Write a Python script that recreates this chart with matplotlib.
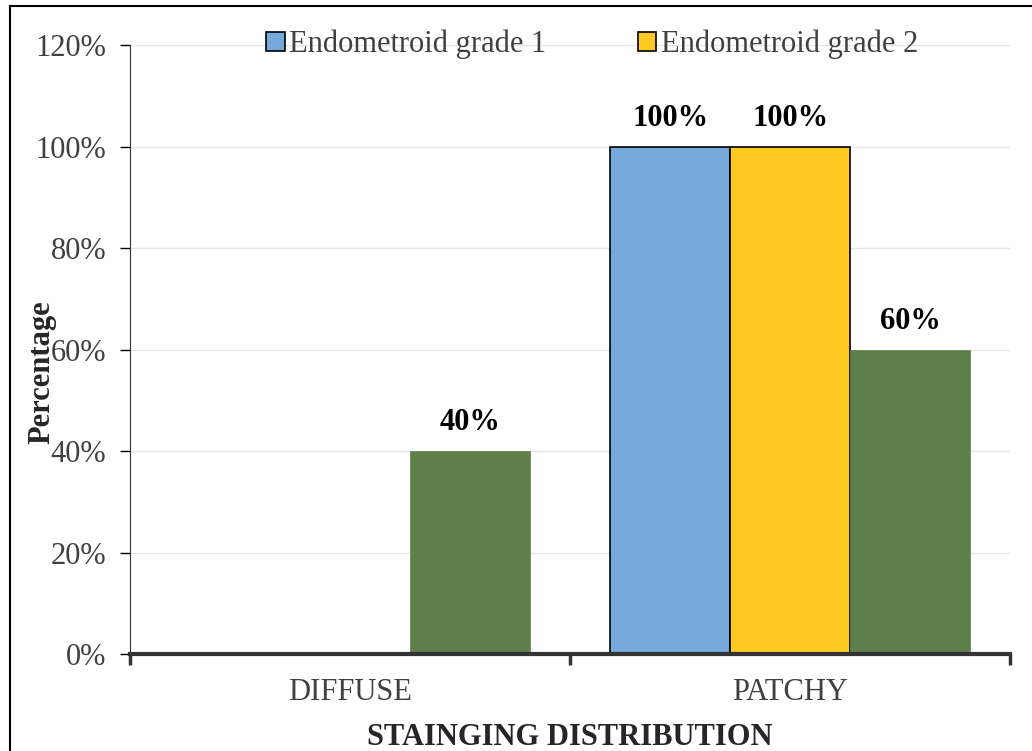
import numpy as np
import matplotlib
matplotlib.use("Agg")
from matplotlib import pyplot as plt
from matplotlib.lines import Line2D

categories = ["DIFFUSE", "PATCHY"]
series_names = ["Endometroid grade 1", "Endometroid grade 2", "Endometroid grade 3"]
grade1 = [0, 100]
grade2 = [0, 100]
grade3 = [40, 60]

colors = ["#74A9DA", "#FFC923", "#5F7F4A"]
edges = ["black", "black", "#5F7F4A"]

plt.rcParams['font.family'] = ['Liberation Serif', 'DejaVu Serif']

fig = plt.figure(figsize=(10.32, 7.51), dpi=100)
ax = fig.add_axes([0.126, 0.129, 0.853, 0.811])
ax.set_axisbelow(True)

x = np.arange(len(categories))
w = 0.273
all_vals = [grade1, grade2, grade3]
for i, vals in enumerate(all_vals):
    pos = x + (i - 1) * w
    bars = ax.bar(pos, vals, width=w, color=colors[i], edgecolor=edges[i],
                  linewidth=1.2 if i < 2 else 0.5,
                  label=series_names[i] if i < 2 else None)
    for b, v in zip(bars, vals):
        if v > 0:
            ax.annotate(f"{v}%", (b.get_x() + b.get_width() / 2, v),
                        xytext=(0, 10), textcoords="offset points",
                        ha="center", va="bottom", fontsize=22, fontweight="bold")

ax.set_xlim(-0.5, 1.5)
ax.set_ylim(0, 120)
ax.set_yticks(np.arange(0, 121, 20))
ax.set_yticklabels([f"{t}%" for t in range(0, 121, 20)], fontsize=22, color="#404040")
ax.set_xticks(x)
ax.set_xticklabels(categories, fontsize=22, color="#404040")
ax.tick_params(axis="x", length=0, pad=17)
ax.tick_params(axis="y", length=7, width=1, pad=10)
ax.set_xticks([-0.5, 0.5, 1.5], minor=True)
ax.tick_params(axis="x", which="minor", length=8, width=2.5, color="#333333")

ax.grid(axis="y", color="#E6E6E6", linewidth=1)
ax.spines["top"].set_visible(False)
ax.spines["right"].set_visible(False)
ax.spines["left"].set_color("#333333")
ax.spines["bottom"].set_linewidth(3)
ax.spines["bottom"].set_color("#333333")

ax.set_xlabel("STAINGING DISTRIBUTION", fontsize=22, fontweight="bold", color="#262626", labelpad=12)
fig.text(0.041, 0.505, "Percentage", rotation=90, ha="center", va="center",
         fontsize=22, fontweight="bold", color="#262626")

leg = ax.legend(loc="upper center", bbox_to_anchor=(0.525, 1.07), ncol=2, frameon=False,
                fontsize=22, handlelength=0.6, handleheight=0.6, handletextpad=0.15,
                columnspacing=3.0)
for t in leg.get_texts():
    t.set_color("#404040")

# outer frame (left and top edges visible)
fig.add_artist(Line2D([0.0097, 0.0097], [0, 0.992], color="black", linewidth=1.5, transform=fig.transFigure))
fig.add_artist(Line2D([0.0097, 1.0], [0.992, 0.992], color="black", linewidth=1.5, transform=fig.transFigure))

fig.savefig("out.png", dpi=100)
